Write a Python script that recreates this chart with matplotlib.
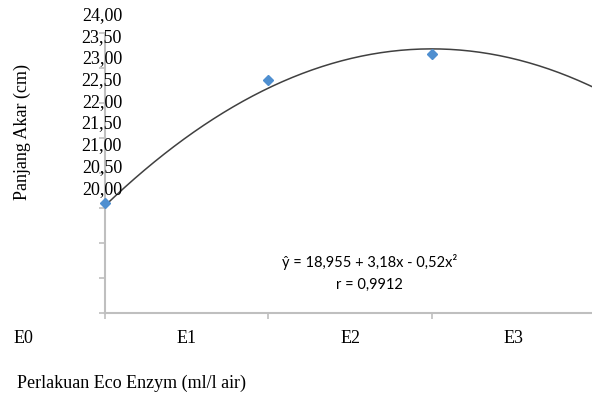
import numpy as np
import matplotlib
matplotlib.use("Agg")
import matplotlib.pyplot as plt

# treatments and measured root length (cm)
categories = ["E0", "E1", "E2", "E3"]
panjang_akar = [19.69, 22.51, 23.11]
# quadratic trendline at E0..E3
trend_at = [19.62, 22.32, 23.24, 22.32]
ytick_labels = ["24,00", "23,50", "23,00", "22,50", "22,00",
                "21,50", "21,00", "20,50", "20,00"]
ytick_values = [24.0, 23.5, 23.0, 22.5, 22.0, 21.5, 21.0, 20.5, 20.0]
equation = "ŷ = 18,955 + 3,18x - 0,52x²"
r_text = "r = 0,9912"

serif = "Liberation Serif"
axis_col = "#bfbfbf"

fig = plt.figure(figsize=(5.92, 3.94), dpi=100)
W, H = 592, 394
ax = fig.add_axes([105 / W, 1 - 313 / H, (595.5 - 105) / W, (313 - 33) / H])

x_pts = np.arange(len(panjang_akar))
x_tr = np.arange(len(trend_at))
coef = np.polyfit(x_tr, trend_at, 2)
xx = np.linspace(0, 3, 200)
ax.plot(xx, np.polyval(coef, xx), color="#404040", lw=1.1, zorder=2)
ax.plot(x_pts, panjang_akar, ls="none", marker="D", ms=5,
        color="#4f8fd0", zorder=3, clip_on=False)

ax.set_xlim(0, 3)
ylo, yhi = 17.145, 23.597
ax.set_ylim(ylo, yhi)
ax.set_xticks(range(len(categories)))
ax.set_xticklabels([])
ax.set_yticks(np.linspace(ylo, yhi, 9))
ax.set_yticklabels([])
ax.tick_params(length=4, width=1.2, color=axis_col)
for s in ["top", "right"]:
    ax.spines[s].set_visible(False)
for s in ["left", "bottom"]:
    ax.spines[s].set_color(axis_col)
    ax.spines[s].set_linewidth(1.5)

# value labels written as text box beside the axis
for v, lab in zip(ytick_values, ytick_labels):
    ax.text(0.104, v, lab, ha="right", va="center", family=serif,
            fontsize=13, clip_on=False)

# category labels sit between the ticks
for i, c in enumerate(categories):
    ax.text(i - 0.5, 16.55, c, ha="center", va="center", family=serif,
            fontsize=13, clip_on=False)

ax.text(1.62, 18.32, equation, ha="center", va="center", family="Lato",
        fontsize=10.5)
ax.text(1.62, 17.79, r_text, ha="center", va="center", family="Lato",
        fontsize=10.5)

fig.text(17 / W, 1 - 383 / H, "Perlakuan Eco Enzym (ml/l air)", ha="left",
         va="center", family=serif, fontsize=13)
fig.text(22 / W, 1 - 132 / H, "Panjang Akar (cm)", ha="center", va="center",
         rotation=90, family=serif, fontsize=13)

fig.savefig("out.png", dpi=100)
